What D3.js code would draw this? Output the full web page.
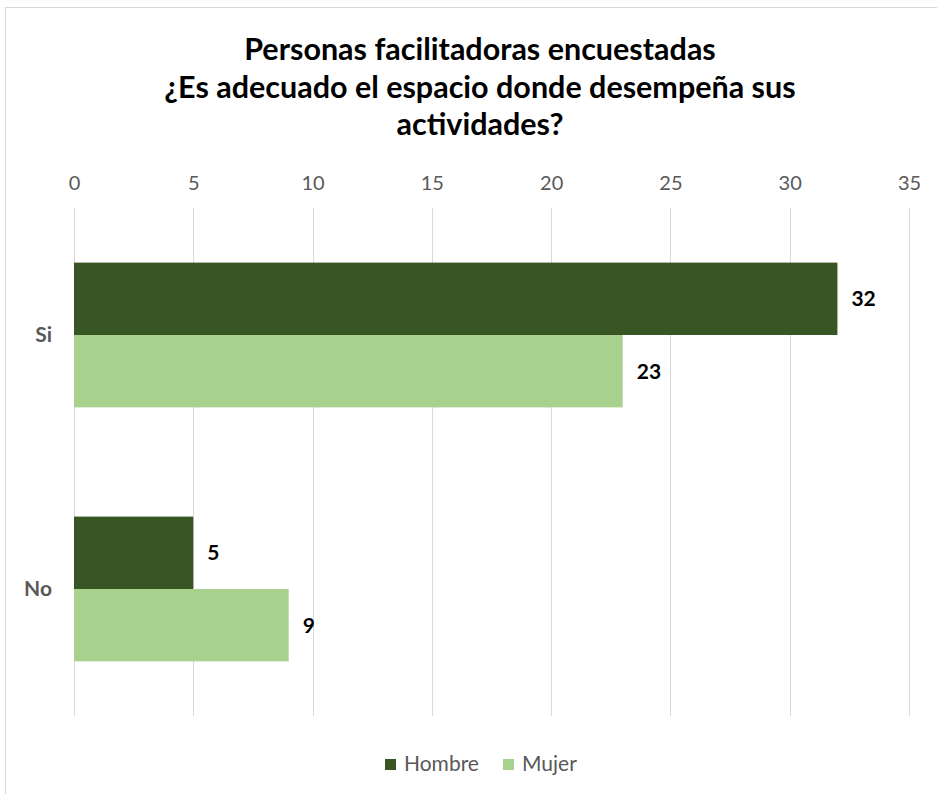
<!DOCTYPE html>
<html>
<head>
<meta charset="utf-8">
<script src="https://cdn.jsdelivr.net/npm/d3@7"></script>
<style>
  html, body { margin: 0; padding: 0; background: #fff; }
  svg { display: block; }
  text { font-family: Lato, "Open Sans", sans-serif; }
</style>
</head>
<body>
<svg id="chart" width="937" height="794"></svg>
<script>
const titleLines = ["Personas facilitadoras encuestadas", "¿Es adecuado el espacio donde desempeña sus", "actividades?"];
const categories = ["Si", "No"];
const seriesNames = ["Hombre", "Mujer"];
const hombre = [32, 5];
const mujer = [23, 9];
const xTicks = [0, 5, 10, 15, 20, 25, 30, 35];
const colors = ["#375623", "#a9d18e"];

const svg = d3.select("#chart");
const plot = { left: 74, right: 909, top: 208, bottom: 716 };
const cx = 480;

// frame
svg.append("rect").attr("x", 5.5).attr("y", 7.5).attr("width", 960).attr("height", 820)
  .attr("fill", "#fff").attr("stroke", "#d9d9d9").attr("stroke-width", 1);

// title
svg.append("g").selectAll("text").data(titleLines).join("text")
  .attr("x", cx).attr("y", (d, i) => 60 + i * 37.5)
  .attr("text-anchor", "middle")
  .attr("font-size", 30.5).attr("font-weight", "bold").attr("fill", "#000")
  .text(d => d);

const x = d3.scaleLinear().domain([0, 35]).range([plot.left, plot.right]);
const y = d3.scaleBand().domain(categories).range([plot.top, plot.bottom])
  .paddingInner(0.43).paddingOuter(0.215);
const ySub = d3.scaleBand().domain(seriesNames).range([0, y.bandwidth()]);

// gridlines
svg.append("g").selectAll("line").data(xTicks).join("line")
  .attr("x1", d => Math.round(x(d)) + 0.5).attr("x2", d => Math.round(x(d)) + 0.5)
  .attr("y1", plot.top).attr("y2", plot.bottom)
  .attr("stroke", "#d9d9d9").attr("stroke-width", 1);

// top axis
const xAxis = d3.axisTop(x).tickValues(xTicks).tickSize(0).tickPadding(0);
const gx = svg.append("g").attr("transform", `translate(0, 190)`).call(xAxis);
gx.select(".domain").remove();
gx.selectAll("text").attr("font-family", "Lato, sans-serif").attr("font-size", 20)
  .attr("fill", "#595959").attr("dy", 0);

// category axis
const yAxis = d3.axisLeft(y).tickSize(0).tickPadding(22);
const gy = svg.append("g").attr("transform", `translate(${plot.left}, 0)`).call(yAxis);
gy.select(".domain").remove();
gy.selectAll("text").attr("font-family", "Lato, sans-serif").attr("font-size", 21)
  .attr("font-weight", "bold").attr("fill", "#595959");

// bars
const rows = categories.map((c, i) => ({ cat: c, vals: [
  { s: seriesNames[0], v: hombre[i], c: colors[0] },
  { s: seriesNames[1], v: mujer[i], c: colors[1] }
]}));
const groups = svg.append("g").selectAll("g").data(rows).join("g")
  .attr("transform", d => `translate(0, ${y(d.cat)})`);
groups.selectAll("rect").data(d => d.vals).join("rect")
  .attr("x", x(0)).attr("y", d => ySub(d.s))
  .attr("width", d => x(d.v) - x(0)).attr("height", ySub.bandwidth())
  .attr("fill", d => d.c);
groups.selectAll("text").data(d => d.vals).join("text")
  .attr("x", d => x(d.v) + 14).attr("y", d => ySub(d.s) + ySub.bandwidth() / 2)
  .attr("dy", "0.35em").attr("font-size", 21).attr("font-weight", "bold").attr("fill", "#000")
  .text(d => d.v);

// legend
const legendX = [385, 503];
const lg = svg.append("g").selectAll("g").data(seriesNames).join("g")
  .attr("transform", (d, i) => `translate(${legendX[i]}, 759)`);
lg.append("rect").attr("width", 11).attr("height", 11).attr("fill", (d, i) => colors[i]);
lg.append("text").attr("x", 19).attr("y", 12).attr("font-size", 21).attr("fill", "#595959").text(d => d);
</script>
</body>
</html>
